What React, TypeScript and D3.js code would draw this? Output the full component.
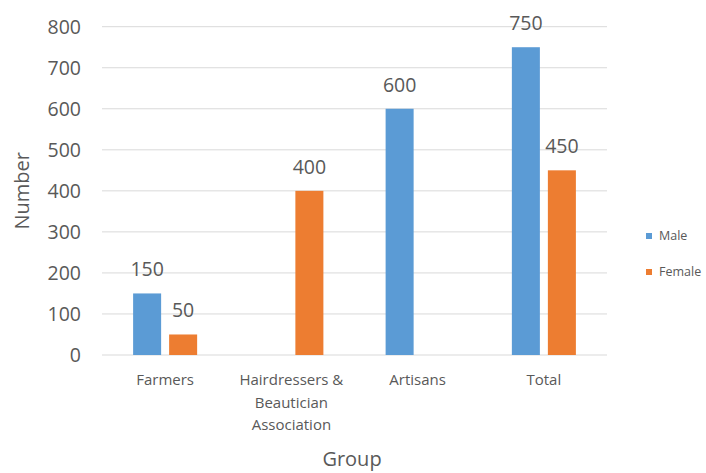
import React from "react";
import * as d3 from "d3";

// Chart data
const categories = ["Farmers", "Hairdressers & Beautician Association", "Artisans", "Total"];
const categoryLines = [["Farmers"], ["Hairdressers &", "Beautician", "Association"], ["Artisans"], ["Total"]];
const seriesNames = ["Male", "Female"];
const maleValues = [150, 0, 600, 750];
const femaleValues = [50, 400, 0, 450];
const yTicks = [0, 100, 200, 300, 400, 500, 600, 700, 800];

const COLORS: Record<string, string> = { Male: "#5B9BD5", Female: "#ED7D31" };
const TEXT = "#595959";
const FONT = "'Open Sans', 'Noto Sans', sans-serif";

export default function App() {
  const width = 706;
  const height = 473;
  const plot = { left: 102, right: 607, top: 26.7, bottom: 355 };

  const x = d3.scaleBand<string>().domain(categories).range([plot.left, plot.right]).padding(0);
  const xInner = d3
    .scaleBand<string>()
    .domain(seriesNames)
    .range([0, x.bandwidth()])
    .paddingInner(0.222)
    .paddingOuter(0.864);
  const y = d3.scaleLinear().domain([0, 800]).range([plot.bottom, plot.top]);

  const series = [
    { name: "Male", values: maleValues },
    { name: "Female", values: femaleValues },
  ];

  return (
    <svg
      width={width}
      height={height}
      style={{ position: "absolute", left: 0, top: 0, background: "#fff" }}
      fontFamily={FONT}
    >
      {/* gridlines */}
      {yTicks.map((t) => (
        <line key={t} x1={plot.left} x2={plot.right} y1={y(t)} y2={y(t)} stroke="#D9D9D9" strokeWidth={1} />
      ))}
      {/* y tick labels */}
      {yTicks.map((t) => (
        <text key={"yt" + t} x={81} y={y(t)} dy="0.35em" textAnchor="end" fontSize={19.5} fill={TEXT}>
          {t}
        </text>
      ))}
      {/* bars */}
      {series.map((s) =>
        categories.map((c, i) => {
          const v = s.values[i];
          const bx = (x(c) ?? 0) + (xInner(s.name) ?? 0);
          return (
            <g key={s.name + c}>
              <rect x={bx} y={y(v)} width={xInner.bandwidth()} height={plot.bottom - y(v)} fill={COLORS[s.name]} />
              {v > 0 && (
                <text
                  x={bx + xInner.bandwidth() / 2}
                  y={y(v) - 17}
                  textAnchor="middle"
                  fontSize={19.5}
                  fill={TEXT}
                >
                  {v}
                </text>
              )}
            </g>
          );
        })
      )}
      {/* category labels */}
      {categories.map((c, i) => (
        <text key={"c" + c} x={(x(c) ?? 0) + x.bandwidth() / 2} y={385} textAnchor="middle" fontSize={15} fill={TEXT}>
          {categoryLines[i].map((ln, j) => (
            <tspan key={j} x={(x(c) ?? 0) + x.bandwidth() / 2} dy={j === 0 ? 0 : 22.5}>
              {ln}
            </tspan>
          ))}
        </text>
      ))}
      {/* axis titles */}
      <text x={352} y={466} textAnchor="middle" fontSize={20} fill={TEXT}>
        Group
      </text>
      <text
        transform={`translate(29, ${(plot.top + plot.bottom) / 2}) rotate(-90)`}
        textAnchor="middle"
        fontSize={20}
        fill={TEXT}
      >
        Number
      </text>
      {/* legend */}
      {seriesNames.map((n, i) => (
        <g key={"lg" + n} transform={`translate(646, ${233 + i * 36})`}>
          <rect x={0} y={0} width={6} height={6} fill={COLORS[n]} />
          <text x={13} y={3} dy="0.35em" fontSize={12.5} fill={TEXT}>
            {n}
          </text>
        </g>
      ))}
    </svg>
  );
}
